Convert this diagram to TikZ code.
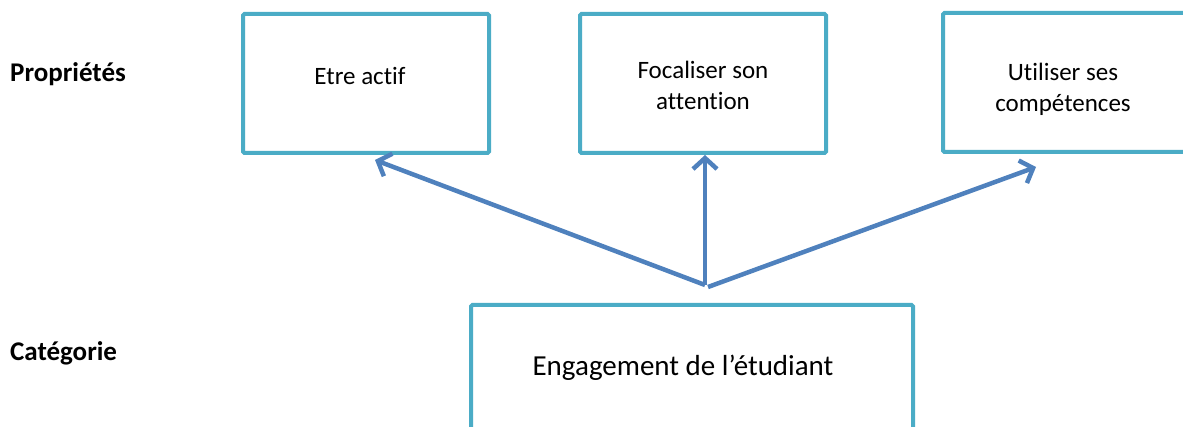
\documentclass[tikz,border=0pt]{standalone}
\usepackage{fontspec}
\setmainfont[Ligatures=NoCommon]{Carlito}
\usetikzlibrary{arrows.meta,calc}
\definecolor{boxc}{HTML}{4BACC6}
\definecolor{arrc}{HTML}{4F81BD}
\tikzset{
  propbox/.style={draw=boxc, line width=4pt, rounded corners=1.5pt, fill=white},
  boxtext/.style={font=\fontsize{25}{31}\selectfont, align=center, inner sep=0pt},
  lbl/.style={font=\fontsize{27}{30}\selectfont\bfseries, anchor=west, inner sep=0pt},
  conn/.style={draw=arrc, line width=4.5pt, -{Straight Barb[length=11pt,width=24pt,line width=4.5pt]}}
}
\begin{document}
\begin{tikzpicture}[x=1pt,y=-1pt]
\useasboundingbox (0,0) rectangle (1183,427);
\begin{scope}
\clip (0,0) rectangle (1183,427);
\draw[propbox] (243,14) rectangle (489,153);
\draw[propbox] (580,14) rectangle (826,153);
\draw[propbox] (943,13) rectangle (1200,152);
\draw[propbox] (471,305) rectangle (913,450);
\end{scope}
\node[boxtext] (box1) at (360,76) {Etre actif};
\node[boxtext] (box2) at (703,85) {Focaliser son\\attention};
\node[boxtext] (box3) at (1063,89) {Utiliser ses\\compétences};
\node[boxtext, font=\fontsize{29}{32}\selectfont] (cat) at (683,368) {Engagement de l’étudiant};
\node[lbl] (lprop) at (10,74) {Propriétés};
\node[lbl] (lcat) at (10,353) {Catégorie};
\coordinate (o) at (705,285);
\coordinate (o2) at (708,287);
\coordinate (t1) at (375,160);
\coordinate (t2) at (705,155);
\coordinate (t3) at (1036,167);
\draw[conn] (o) -- (t1);
\draw[conn] (o) -- (t2);
\draw[conn] (o2) -- (t3);
\end{tikzpicture}
\end{document}
